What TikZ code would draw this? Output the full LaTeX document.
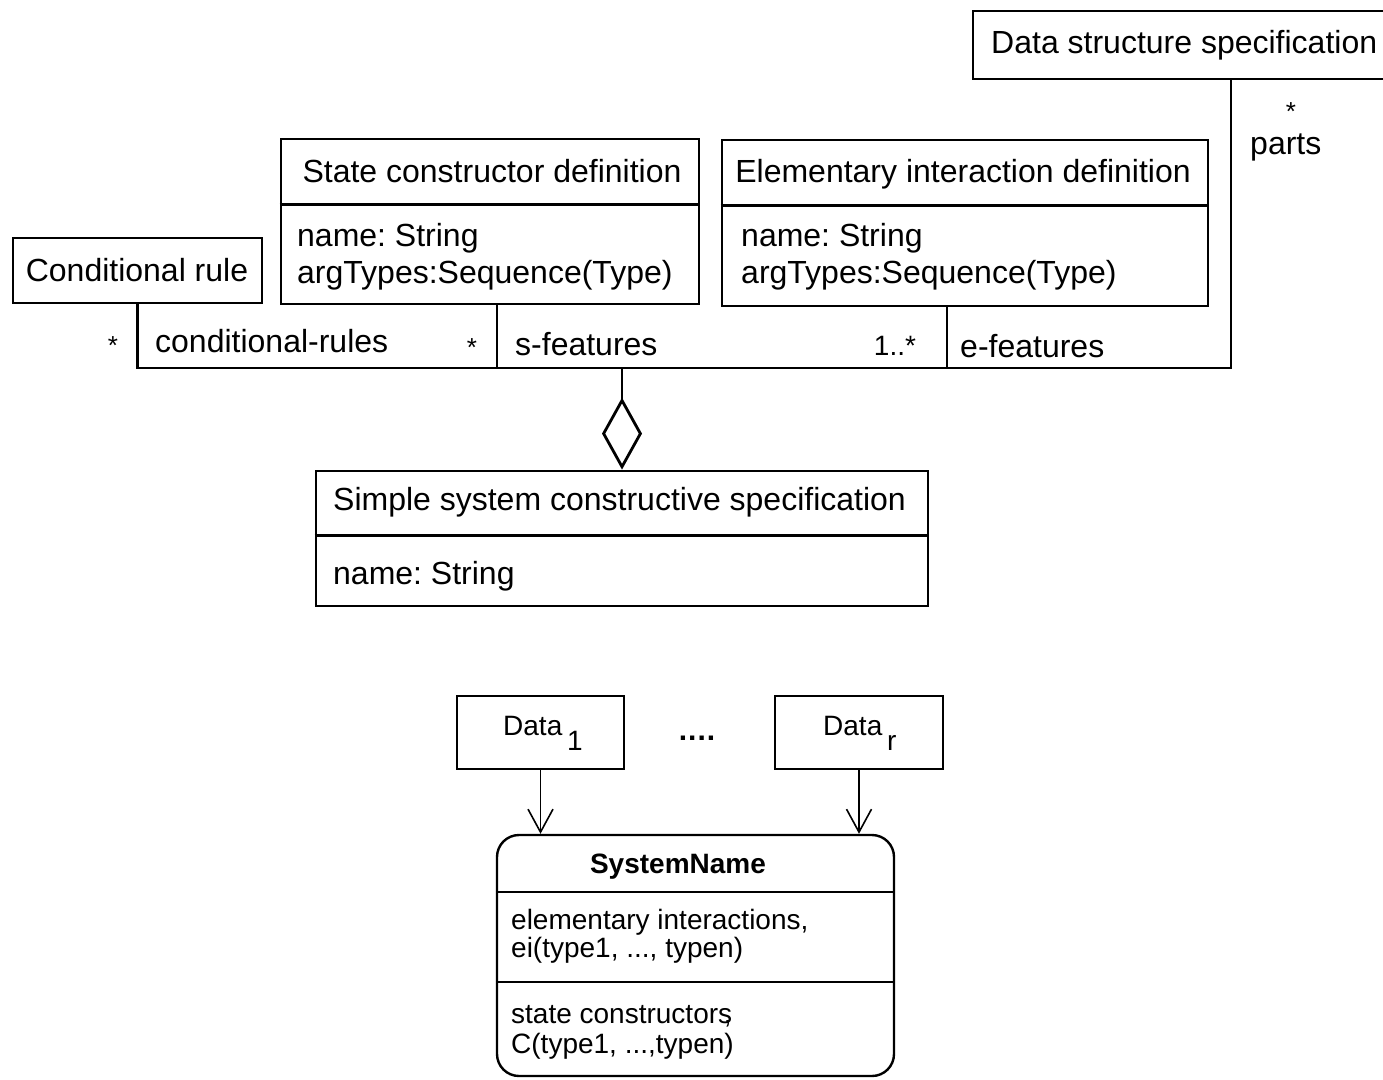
\documentclass[tikz,border=0pt]{standalone}
\usepackage{fontspec}
\setmainfont{Liberation Sans}
\usetikzlibrary{arrows.meta,positioning}
\frenchspacing

\tikzset{
	box/.style={draw, line width=2.8pt, inner sep=0pt},
	big/.style={font=\fontsize{32}{36}\selectfont, inner sep=0pt},
	star/.style={font=\fontsize{26}{30}\selectfont, inner sep=0pt},
	small/.style={font=\fontsize{28}{30}\selectfont, inner sep=0pt},
	link/.style={line width=2.8pt},
	aggr/.style={line width=2.8pt, -{Diamond[open, length=72pt, width=40pt]}},
	dep/.style={line width=1.6pt, -{Straight Barb[length=23pt, width=25pt]}},
}

\begin{document}
\begin{tikzpicture}[x=1pt, y=-1pt]
	\useasboundingbox (0,0) rectangle (1383,1079);

	% metamodel
	\node[box, minimum width=516pt, minimum height=68pt] (dss) at (1231,45) {};
	\node[big, anchor=base west] (dsst) at (991,53) {Data structure specification};

	\node[box, minimum width=249pt, minimum height=65pt] (cr) at (137.5,270.5) {};
	\node[big, anchor=base] (crt) at (137,281) {Conditional rule};

	\node[box, minimum width=418pt, minimum height=165pt] (scd) at (490,221.5) {};
	\draw[link] ([yshift=-67pt]scd.north west) -- ([yshift=-67pt]scd.north east);
	\node[big, anchor=base] (scdt) at (492,182) {State constructor definition};
	\node[big, anchor=base west] (scda) at (297,246) {name: String};
	\node[big, anchor=base west] (scdb) at (297,283) {argTypes:Sequence(Type)};

	\node[box, minimum width=486pt, minimum height=166pt] (eid) at (965,223) {};
	\draw[link] ([yshift=-67pt]eid.north west) -- ([yshift=-67pt]eid.north east);
	\node[big, anchor=base] (eidt) at (963,182) {Elementary interaction definition};
	\node[big, anchor=base west] (eida) at (741,246) {name: String};
	\node[big, anchor=base west] (eidb) at (741,283) {argTypes:Sequence(Type)};

	\node[box, minimum width=612pt, minimum height=135pt] (ssc) at (622,538.5) {};
	\draw[link] ([yshift=-66pt]ssc.north west) -- ([yshift=-66pt]ssc.north east);
	\node[big, anchor=base] (ssct) at (619.5,510) {Simple system constructive specification};
	\node[big, anchor=base west] (ssca) at (333,584) {name: String};

	\coordinate (jn) at (622,368);
	\draw[link] (cr.south) |- (jn) -| (dss.south); % bar
	\draw[link] ([xshift=7pt]scd.south) -- ([xshift=7pt]scd.south |- jn);
	\draw[link] ([xshift=-18pt]eid.south) -- ([xshift=-18pt]eid.south |- jn);
	\draw[aggr] (jn) -- (ssc.north);

	\node[star, anchor=base] (m1) at (113,354) {*};
	\node[big, anchor=base west] (r1) at (155,352) {conditional-rules};
	\node[star, anchor=base] (m2) at (472,356) {*};
	\node[big, anchor=base west] (r2) at (515,355) {s-features};
	\node[small, anchor=base] (m3) at (895,355) {1..*};
	\node[big, anchor=base west] (r3) at (960,357) {e-features};
	\node[star, anchor=base] (m4) at (1291,120) {*};
	\node[big, anchor=base west] (r4) at (1250,154) {parts};

	% system
	\node[draw, line width=2pt, minimum width=167pt, minimum height=73pt] (d1) at (540.5,732.5) {};
	\node[small, anchor=base west] (d1t) at (503,735) {Data\,\raisebox{-15pt}{1}};
	\node[draw, line width=2pt, minimum width=168pt, minimum height=73pt] (dr) at (859,732.5) {};
	\node[small, anchor=base west] (drt) at (823,735) {Data\,\raisebox{-15pt}{r}};
	\node[small, font=\fontsize{30}{30}\selectfont\bfseries, anchor=base] (dots) at (697,740) {.\kern1pt.\kern1pt.\kern1pt.};

	\node[draw, line width=2.4pt, rounded corners=22pt, minimum width=397pt, minimum height=241pt] (sys) at (695.5,955.5) {};
	\draw[line width=2.4pt] ([yshift=-58pt]sys.north west) -- ([yshift=-58pt]sys.north east);
	\draw[line width=2.4pt] ([yshift=-148pt]sys.north west) -- ([yshift=-148pt]sys.north east);
	\node[small, font=\fontsize{28}{30}\selectfont\bfseries, anchor=base] (syst) at (678,873) {SystemName};
	\node[small, anchor=base west] (ei1) at (511,929) {elementary interactions,};
	\node[small, anchor=base west] (ei2) at (511,957) {ei(type1, ..., typen)};
	\node[small, anchor=base west] (sc1) at (511,1023) {state constructors\kern-0.3em,};
	\node[small, anchor=base west] (sc2) at (511,1053) {C(type1, ...,typen)};

	\draw[dep] (d1) -- (d1 |- sys.north);
	\draw[dep] (dr) -- (dr |- sys.north);
\end{tikzpicture}
\end{document}
